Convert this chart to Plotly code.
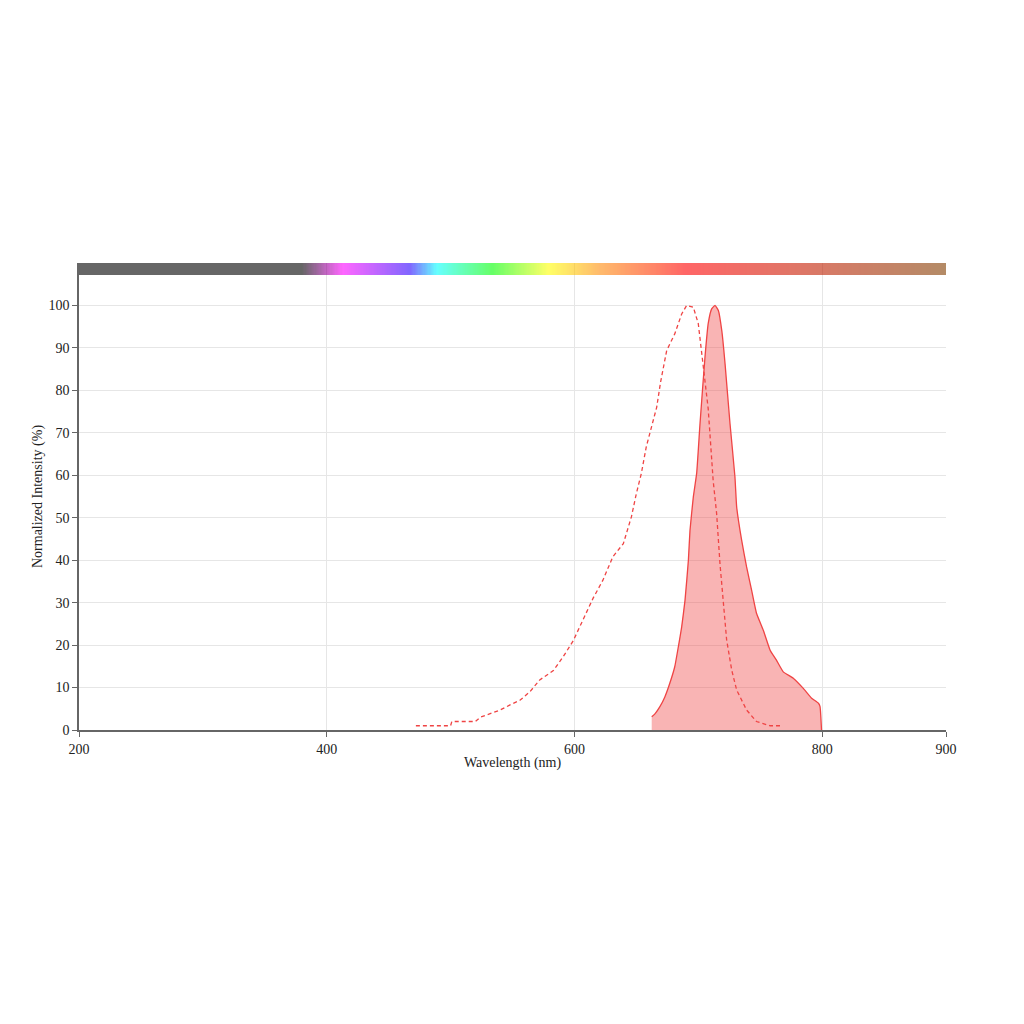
import numpy as np
import plotly.graph_objects as go

# Excitation spectrum (dashed)
ex_wl = [472, 500, 501, 520, 524, 532, 540, 548, 556, 564, 572, 583, 591, 599, 607, 615,
         623, 631, 639.5, 646, 650, 654, 658, 662, 666.4, 669.6, 674.5, 681, 686.6, 690.6,
         696, 700, 702.7, 705.4, 708, 712, 714.8, 717.5, 720, 722.9, 727, 731, 739, 747, 758, 767]
ex_val = [1, 1, 2, 2, 3, 3.9, 4.7, 5.9, 7, 9, 11.8, 14, 17.3, 21, 26, 31,
          35.3, 40.8, 43.9, 50.2, 55.7, 60.4, 66.7, 71.4, 76, 82, 89.4, 93.3, 98, 100,
          99.6, 95.7, 89.4, 83, 75.7, 58.8, 51, 39.2, 31.4, 21.2, 14.1, 9.4, 4.7, 2, 1, 1]

# Emission spectrum (filled)
em_wl = [662.4, 665, 669, 673, 677, 681, 683.9, 686.6, 689.3, 692, 693.3, 696, 698.7,
         701.4, 705.4, 708, 710.8, 713.5, 716.2, 719, 721.6, 725.6, 729.6, 731, 735, 739,
         743, 747, 752.5, 758, 763, 768.6, 776.7, 784.8, 791.5, 797, 798.3, 799.5]
em_val = [3.1, 3.8, 5.5, 7.8, 11, 14.9, 19.6, 24.3, 30.6, 40, 47, 54.9, 60.5,
          72.2, 87.8, 95.7, 99.2, 100, 98.8, 94, 86.3, 72.2, 59.6, 52.5, 44.7, 38.4,
          33, 27.5, 23.5, 18.8, 16.5, 13.7, 12.2, 9.8, 7.5, 6.3, 5.5, 0]

# Spectrum colour bar stops (nm, colour)
bar_stops_nm = [200, 380, 413, 467, 489, 534, 579, 620, 690, 900]
bar_stops_col = ["rgb(0,0,0)", "rgb(0,0,0)", "rgb(255,0,255)", "rgb(45,0,255)",
                 "rgb(0,255,255)", "rgb(0,255,0)", "rgb(255,255,0)", "rgb(255,142,10)",
                 "rgb(255,0,0)", "rgb(130,62,0)"]

x_ticks = [200, 400, 600, 800, 900]
y_ticks = list(range(0, 101, 10))

RED = "rgb(239,68,68)"
FONT = "Liberation Serif, Times New Roman, serif"

fig = go.Figure()

edges = np.arange(200, 901, 1)
centers = (edges[:-1] + edges[1:]) / 2
cscale = [[(s - 200) / 700, c] for s, c in zip(bar_stops_nm, bar_stops_col)]
fig.add_trace(go.Heatmap(
    x=edges, y=[107.2, 110], z=[centers], colorscale=cscale, zmin=200, zmax=900,
    showscale=False, opacity=0.6, hoverinfo="skip"))

fig.add_trace(go.Scatter(
    x=em_wl, y=em_val, mode="lines", fill="tozeroy", line_shape="spline",
    line=dict(color=RED, width=1.3, smoothing=0.4), fillcolor="rgba(239,68,68,0.4)",
    name="Emission"))

fig.add_trace(go.Scatter(
    x=ex_wl, y=ex_val, mode="lines",
    line=dict(color=RED, width=1.3, dash="4px,3px"),
    name="Excitation"))

fig.update_layout(
    width=1024, height=1024,
    margin=dict(l=71, r=86, t=255, b=302),
    paper_bgcolor="white", plot_bgcolor="white",
    showlegend=False,
    font=dict(family=FONT, size=14, color="#222"),
    xaxis=dict(range=[200, 900], tickvals=x_ticks, ticks="outside", ticklen=5,
               tickcolor="#666", showline=True, linecolor="#666", linewidth=1.5,
               showgrid=True, gridcolor="#e6e6e6", zeroline=False,
               title=dict(text="Wavelength (nm)", standoff=2, font=dict(size=14))),
    yaxis=dict(range=[0, 110], tickvals=y_ticks, ticks="outside", ticklen=5,
               tickcolor="#666", showline=True, linecolor="#666", linewidth=1.5,
               showgrid=True, gridcolor="#e6e6e6", zeroline=False,
               title=dict(text="Normalized Intensity (%)", standoff=3, font=dict(size=14))),
)

fig.write_html("out.html")
